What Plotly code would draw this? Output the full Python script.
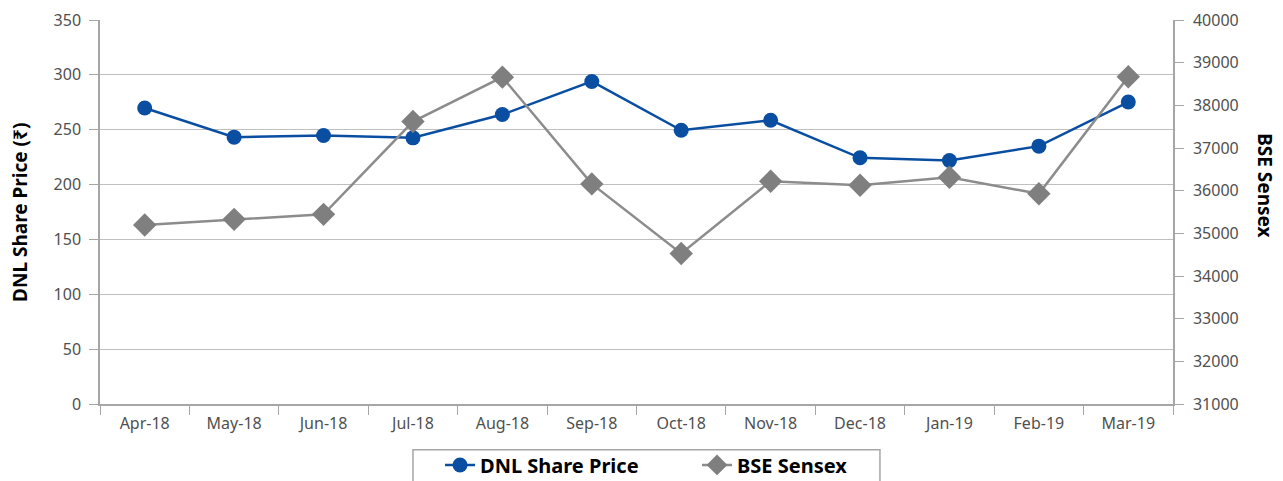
import plotly.graph_objects as go

months = ["Apr-18", "May-18", "Jun-18", "Jul-18", "Aug-18", "Sep-18",
          "Oct-18", "Nov-18", "Dec-18", "Jan-19", "Feb-19", "Mar-19"]
dnl_price = [269.8, 243.2, 244.7, 242.6, 263.8, 294.0, 249.5, 258.6, 224.4, 222.0, 235.0, 275.2]
bse_sensex = [35196, 35328, 35445, 37620, 38660, 36159, 34527, 36221, 36128, 36315, 35926, 38669]

BLUE = "#0a4ea2"
GRAY = "#8c8c8c"
GRAY_MK = "#7f7f7f"
AXIS = "#a6a6a6"
GRID = "#bfbfbf"
FONT = "Noto Sans"
TICKC = "#505050"

fig = go.Figure()
fig.add_trace(go.Scatter(
    x=months, y=dnl_price, name="DNL Share Price", mode="lines+markers",
    line=dict(color=BLUE, width=2.5),
    marker=dict(symbol="circle", size=15, color=BLUE),
    yaxis="y", legend="legend"))
fig.add_trace(go.Scatter(
    x=months, y=bse_sensex, name="BSE Sensex", mode="lines+markers",
    line=dict(color=GRAY, width=2.5),
    marker=dict(symbol="diamond", size=18, color=GRAY_MK),
    yaxis="y2", legend="legend2"))

leg_font = dict(size=20, color="black", family=FONT, weight="bold")

fig.update_layout(
    width=1275, height=473,
    margin=dict(l=92, r=110, t=12, b=77, autoexpand=False),
    paper_bgcolor="white", plot_bgcolor="white",
    font=dict(family=FONT, size=16, color=TICKC),
    xaxis=dict(
        type="category", showgrid=False, showline=True, linecolor=AXIS, linewidth=1.5,
        ticks="outside", tickson="boundaries", ticklen=9, tickcolor=AXIS,
        ticklabelstandoff=4,
        tickfont=dict(size=16, color=TICKC), range=[-0.5, 11.5], automargin=False),
    yaxis=dict(
        range=[0, 350], dtick=50, showgrid=True, gridcolor=GRID, gridwidth=1,
        showline=True, linecolor=AXIS, linewidth=1.5, ticks="outside", ticklen=9,
        tickcolor=AXIS, zeroline=False, tickfont=dict(size=16, color=TICKC),
        ticklabelstandoff=5, automargin=False),
    yaxis2=dict(
        range=[31000, 40000], dtick=1000, overlaying="y", side="right",
        showgrid=False, showline=True, linecolor=AXIS, linewidth=1.5,
        ticks="outside", ticklen=9, tickcolor=AXIS, tickformat="d", zeroline=False,
        tickfont=dict(size=16, color=TICKC), ticklabelstandoff=6, automargin=False),
    legend=dict(
        orientation="h", x=0.3169, xanchor="left", y=-0.108, yanchor="top",
        borderwidth=0, bgcolor="rgba(0,0,0,0)", font=leg_font),
    legend2=dict(
        orientation="h", x=0.5564, xanchor="left", y=-0.108, yanchor="top",
        borderwidth=0, bgcolor="rgba(0,0,0,0)", font=leg_font),
    shapes=[dict(type="rect", xref="paper", yref="paper",
                 x0=0.2917, x1=0.7269, y0=-0.1192, y1=-0.26,
                 line=dict(color=AXIS, width=1.5), fillcolor="rgba(0,0,0,0)", layer="below")],
    annotations=[
        dict(text="<b>DNL Share Price (₹)</b>", x=-0.0746, y=0.5, xref="paper", yref="paper",
             textangle=-90, showarrow=False, font=dict(size=19, color="black", family=FONT),
             xanchor="center", yanchor="middle"),
        dict(text="<b>BSE Sensex</b>", x=1.0857, y=0.57, xref="paper", yref="paper",
             textangle=90, showarrow=False, font=dict(size=19, color="black", family=FONT),
             xanchor="center", yanchor="middle"),
    ],
    showlegend=True,
)

fig.write_html("out.html")
